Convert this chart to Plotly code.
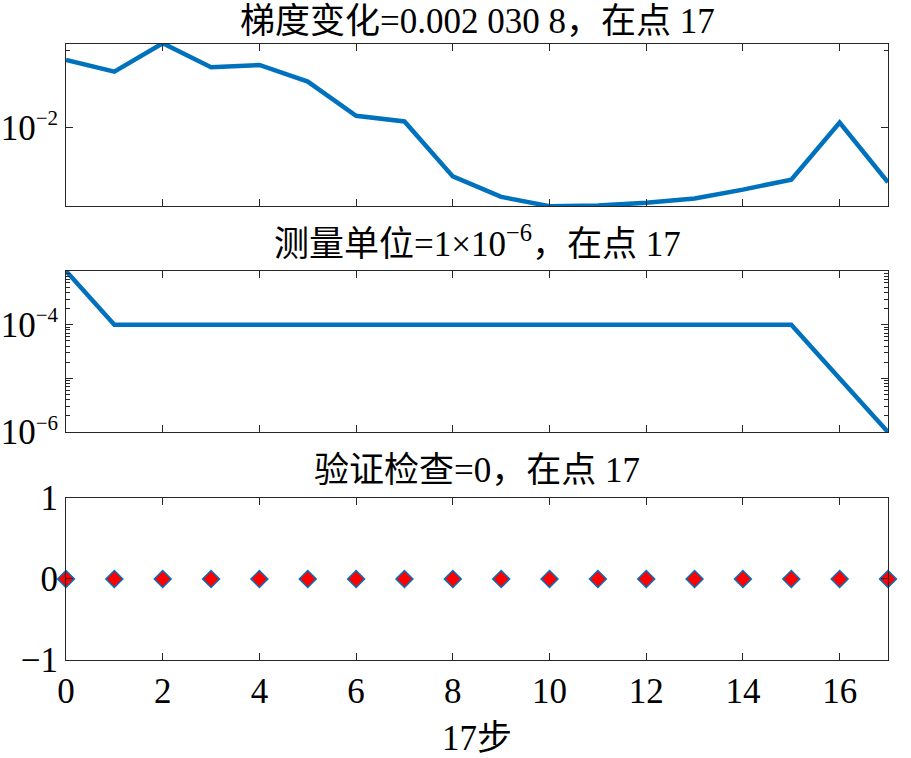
import plotly.graph_objects as go
from plotly.subplots import make_subplots

steps = list(range(18))
grad_change = [0.01830, 0.01650, 0.02124, 0.01715, 0.01750, 0.01509, 0.01113, 0.01058,
               0.00648, 0.00540, 0.00497, 0.00500, 0.00512, 0.00532, 0.00576, 0.00630,
               0.01048, 0.00615]
meas_unit = [1e-3] + [1e-4] * 15 + [1e-5, 1e-6]
valid_check = [0] * 18

titles = ["梯度变化=0.002 030 8，在点 17", "测量单位=1×10<sup>−6</sup>，在点 17", "验证检查=0，在点 17"]
xlabel = "17步"
xticks = [0, 2, 4, 6, 8, 10, 12, 14, 16]


def sup(e):
    return "10<sup><span style='font-size:21px'>−%d</span></sup>" % e


BLUE = "#0072BD"
AX = "#262626"
FONT = "Liberation Serif, 'Times New Roman', 'Noto Sans CJK SC', serif"
FS = 35

fig = make_subplots(rows=3, cols=1, shared_xaxes=False)
fig.add_trace(go.Scatter(x=steps, y=grad_change, mode="lines", line=dict(color=BLUE, width=4.5)), row=1, col=1)
fig.add_trace(go.Scatter(x=steps, y=meas_unit, mode="lines", line=dict(color=BLUE, width=4.5)), row=2, col=1)
fig.add_trace(go.Scatter(x=steps, y=valid_check, mode="markers", cliponaxis=False,
                         marker=dict(symbol="diamond", size=13, color="#FF0000",
                                     line=dict(color=BLUE, width=1.5))), row=3, col=1)

common_x = dict(range=[0, 17], tickvals=xticks, ticks="inside", ticklen=7, tickcolor=AX,
                showline=True, linecolor=AX, linewidth=1, mirror="ticks", showgrid=False,
                zeroline=False, automargin=False, tickfont=dict(family=FONT, size=FS, color="#000"))
common_y = dict(ticks="inside", ticklen=7, tickcolor=AX, showline=True, linecolor=AX,
                linewidth=1, mirror="ticks", showgrid=False, zeroline=False, automargin=False,
                tickfont=dict(family=FONT, size=FS, color="#000"))

domains = [[0.737, 1.0], [0.370, 0.6315], [0.0, 0.263]]
for i in range(3):
    fig.update_xaxes(row=i + 1, col=1, showticklabels=(i == 2), **common_x)

fig.update_yaxes(row=1, col=1, type="log", range=[-2.303, -1.6757], tickvals=[0.01],
                 ticktext=[sup(2)], domain=domains[0],
                 minor=dict(tickvals=[0.02], ticks="inside", ticklen=4, tickcolor=AX), **common_y)

minor_mid = [m * 10 ** e for e in (-6, -5, -4) for m in range(2, 10)]
fig.update_yaxes(row=2, col=1, type="log", range=[-6, -3],
                 tickvals=[1e-6, 1e-5, 1e-4, 1e-3],
                 ticktext=[sup(6), "", sup(4), ""], domain=domains[1],
                 minor=dict(tickvals=minor_mid, ticks="inside", ticklen=4, tickcolor=AX), **common_y)
fig.update_yaxes(row=3, col=1, range=[-1, 1], tickvals=[-1, 0, 1], ticktext=["−1", "0", "1"],
                 domain=domains[2], **common_y)

title_y = [1.037, 0.680, 0.307]
anns = []
for t, y in zip(titles, title_y):
    anns.append(dict(text=t, x=0.5, y=y, xref="paper", yref="paper", xanchor="center",
                     yanchor="middle", showarrow=False, font=dict(family=FONT, size=FS, color="#000")))
anns.append(dict(text=xlabel, x=0.5, y=-0.127, xref="paper", yref="paper", xanchor="center",
                 yanchor="middle", showarrow=False, font=dict(family=FONT, size=FS, color="#000")))

fig.update_layout(width=911, height=758, margin=dict(l=66, r=23, t=44, b=98),
                  paper_bgcolor="white", plot_bgcolor="white", showlegend=False,
                  annotations=anns)

fig.write_html("out.html", config={"displayModeBar": False},
               post_script="document.body.style.margin='0';")
